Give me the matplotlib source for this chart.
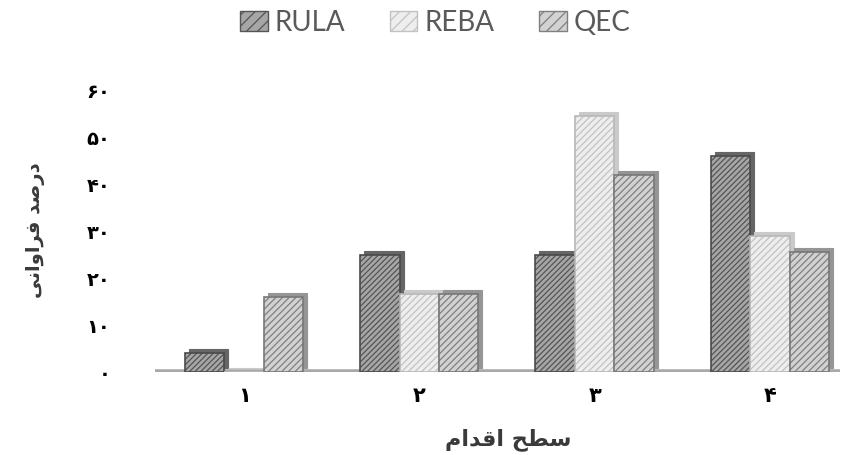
import matplotlib

matplotlib.use("Agg")
import matplotlib.pyplot as plt
import matplotlib.transforms as mtransforms
from matplotlib.patches import Patch
import numpy as np


# level of action (1..4) and share of cases for each method, in percent
LEVELS = ["۱", "۲", "۳", "۴"]
RULA = [4, 25, 25, 46]
REBA = [0, 16.5, 54.5, 29]
QEC = [16, 16.5, 42, 25.5]
SERIES_NAMES = ["RULA", "REBA", "QEC"]
Y_TICKS = [0, 10, 20, 30, 40, 50, 60]
Y_TICK_LABELS = ["۰", "۱۰", "۲۰", "۳۰", "۴۰", "۵۰", "۶۰"]
X_TITLE = "سطح اقدام"
Y_TITLE = "درصد فراوانی"

# face, hatch, edge, side colour per series
STYLES = [
    ("#a6a6a6", "#555555", "#4a4a4a", "#666666"),
    ("#eeeeee", "#c2c2c2", "#b8b8b8", "#cacaca"),
    ("#d2d2d2", "#808080", "#787878", "#959595"),
]
HATCHES = ["//////", "/////", "/////"]

# presentation forms: isolated, final, initial, medial
ARABIC_FORMS = {
    "ا": ("\uFE8D", "\uFE8E", None, None),
    "د": ("\uFEA9", "\uFEAA", None, None),
    "ر": ("\uFEAD", "\uFEAE", None, None),
    "و": ("\uFEED", "\uFEEE", None, None),
    "ح": ("\uFEA1", "\uFEA2", "\uFEA3", "\uFEA4"),
    "س": ("\uFEB1", "\uFEB2", "\uFEB3", "\uFEB4"),
    "ص": ("\uFEB9", "\uFEBA", "\uFEBB", "\uFEBC"),
    "ط": ("\uFEC1", "\uFEC2", "\uFEC3", "\uFEC4"),
    "ف": ("\uFED1", "\uFED2", "\uFED3", "\uFED4"),
    "ق": ("\uFED5", "\uFED6", "\uFED7", "\uFED8"),
    "م": ("\uFEE1", "\uFEE2", "\uFEE3", "\uFEE4"),
    "ن": ("\uFEE5", "\uFEE6", "\uFEE7", "\uFEE8"),
    "ی": ("\uFBFC", "\uFBFD", "\uFBFE", "\uFBFF"),
}


def shape_rtl(text):
    # matplotlib has no bidi/shaping, so join letters and reverse by hand
    out = []
    for i, ch in enumerate(text):
        forms = ARABIC_FORMS.get(ch)
        if forms is None:
            out.append(ch)
            continue
        prev = text[i - 1] if i > 0 else ""
        nxt = text[i + 1] if i + 1 < len(text) else ""
        join_prev = prev in ARABIC_FORMS and ARABIC_FORMS[prev][2] is not None
        join_next = forms[2] is not None and nxt in ARABIC_FORMS
        if join_prev and join_next:
            out.append(forms[3])
        elif join_prev:
            out.append(forms[1])
        elif join_next:
            out.append(forms[2])
        else:
            out.append(forms[0])
    return "".join(reversed(out))


plt.rcParams["hatch.linewidth"] = 0.9
plt.rcParams["font.family"] = ["DejaVu Sans"]

fig = plt.figure(figsize=(8.45, 4.55), dpi=100)
ax = fig.add_axes([0.1834, 0.1824, 0.8107, 0.630])

x = np.arange(len(LEVELS))
width = 0.225
depth = mtransforms.offset_copy(ax.transData, fig=fig, x=4, y=4, units="dots")

z = 2
for k, values in enumerate([RULA, REBA, QEC]):
    face, hatch_col, edge, side = STYLES[k]
    pos = x + (k - 1) * width
    # side/top faces, shifted up and right
    ax.bar(pos, values, width, color=side, edgecolor=side, linewidth=0.8,
           transform=depth, zorder=z)
    # front face with hatch
    ax.bar(pos, values, width, color=face, edgecolor=hatch_col, linewidth=0,
           hatch=HATCHES[k], zorder=z + 1)
    ax.bar(pos, values, width, color="none", edgecolor=edge, linewidth=1.2,
           zorder=z + 2)
    z += 3

# floor
ax.axhline(0, color="#a9a9a9", linewidth=4, zorder=1)

ax.set_xlim(-0.508, 3.40)
ax.set_ylim(0, 61)
for spine in ax.spines.values():
    spine.set_visible(False)

ax.set_yticks(Y_TICKS)
ax.set_yticklabels(Y_TICK_LABELS, fontsize=14, fontweight="bold")
ax.set_xticks(x)
ax.set_xticklabels(LEVELS, fontsize=15, fontweight="bold")
ax.tick_params(axis="y", length=0, pad=32)
ax.tick_params(axis="x", length=0, pad=10)

fig.text(0.601, 0.033, shape_rtl(X_TITLE), ha="center", va="center",
         fontsize=16, fontweight="bold", color="#3a3a3a")
fig.text(0.042, 0.495, shape_rtl(Y_TITLE), ha="center", va="center",
         fontsize=14, fontweight="bold", color="#3a3a3a", rotation=90)

handles = [
    Patch(facecolor=STYLES[k][0], edgecolor=STYLES[k][1], hatch=HATCHES[k][:3],
          linewidth=1.0)
    for k in range(len(SERIES_NAMES))
]
fig.legend(handles, SERIES_NAMES, loc="center", bbox_to_anchor=(0.515, 0.950),
           ncol=3, frameon=False, handlelength=1.0, handleheight=0.75,
           handletextpad=0.25, columnspacing=1.6,
           labelcolor="#5a5a5a", prop={"family": "Lato", "size": 20})

fig.savefig("out.png", dpi=100)
